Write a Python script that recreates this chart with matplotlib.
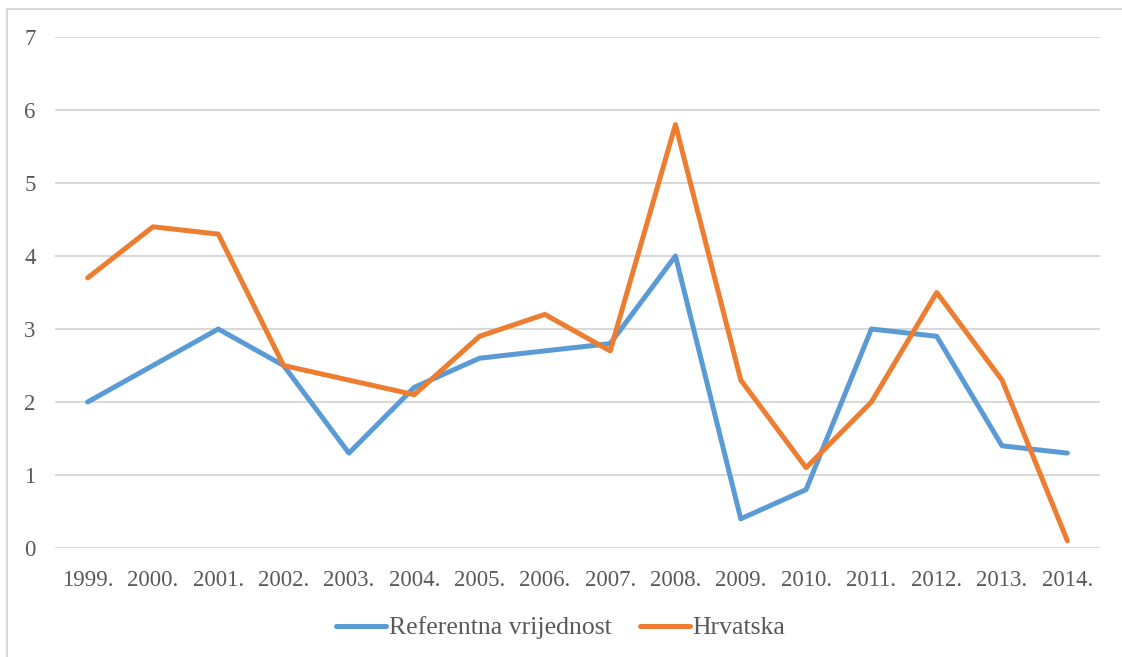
import matplotlib.pyplot as plt
from matplotlib.lines import Line2D

years = ['1999.', '2000.', '2001.', '2002.', '2003.', '2004.', '2005.', '2006.',
         '2007.', '2008.', '2009.', '2010.', '2011.', '2012.', '2013.', '2014.']
referentna = [2.0, 2.5, 3.0, 2.5, 1.3, 2.2, 2.6, 2.7, 2.8, 4.0, 0.4, 0.8, 3.0, 2.9, 1.4, 1.3]
hrvatska = [3.7, 4.4, 4.3, 2.5, 2.3, 2.1, 2.9, 3.2, 2.7, 5.8, 2.3, 1.1, 2.0, 3.5, 2.3, 0.1]

plt.rcParams['font.family'] = ['Liberation Serif', 'DejaVu Serif']
text_col = '#595959'
grid_col = '#d9d9d9'

fig = plt.figure(figsize=(11.22, 6.57), dpi=100)
ax = fig.add_axes([55 / 1122, 109 / 657, 1045 / 1122, 511 / 657])

x = list(range(len(years)))
ax.plot(x, referentna, color='#5B9BD5', lw=3.6, solid_joinstyle='round',
        solid_capstyle='round', label='Referentna vrijednost', zorder=3)
ax.plot(x, hrvatska, color='#ED7D31', lw=3.6, solid_joinstyle='round',
        solid_capstyle='round', label='Hrvatska', zorder=3)

ax.set_xlim(-0.5, len(years) - 0.5)
ax.set_ylim(0, 7)
ax.set_yticks(range(8))
ax.set_xticks(x)
ax.set_xticklabels(years)
ax.grid(axis='y', color=grid_col, lw=1.5)
ax.set_axisbelow(True)
for s in ax.spines.values():
    s.set_visible(False)
ax.tick_params(length=0, labelsize=16.5, colors=text_col)
ax.tick_params(axis='x', pad=16)
ax.tick_params(axis='y', pad=14)

fig.legend(loc='center', bbox_to_anchor=(0.5, 29 / 657), ncol=2, frameon=False,
           fontsize=18.5, labelcolor=text_col, handlelength=1.95, handletextpad=0.1,
           columnspacing=1.1)

# outer chart border (cropped on right and bottom)
fig.add_artist(Line2D([6.5 / 1122, 6.5 / 1122], [0, 1 - 8.5 / 657],
                      transform=fig.transFigure, color=grid_col, lw=1.5))
fig.add_artist(Line2D([6.5 / 1122, 1], [1 - 8.5 / 657, 1 - 8.5 / 657],
                      transform=fig.transFigure, color=grid_col, lw=1.5))

fig.savefig('out.png', dpi=100)
